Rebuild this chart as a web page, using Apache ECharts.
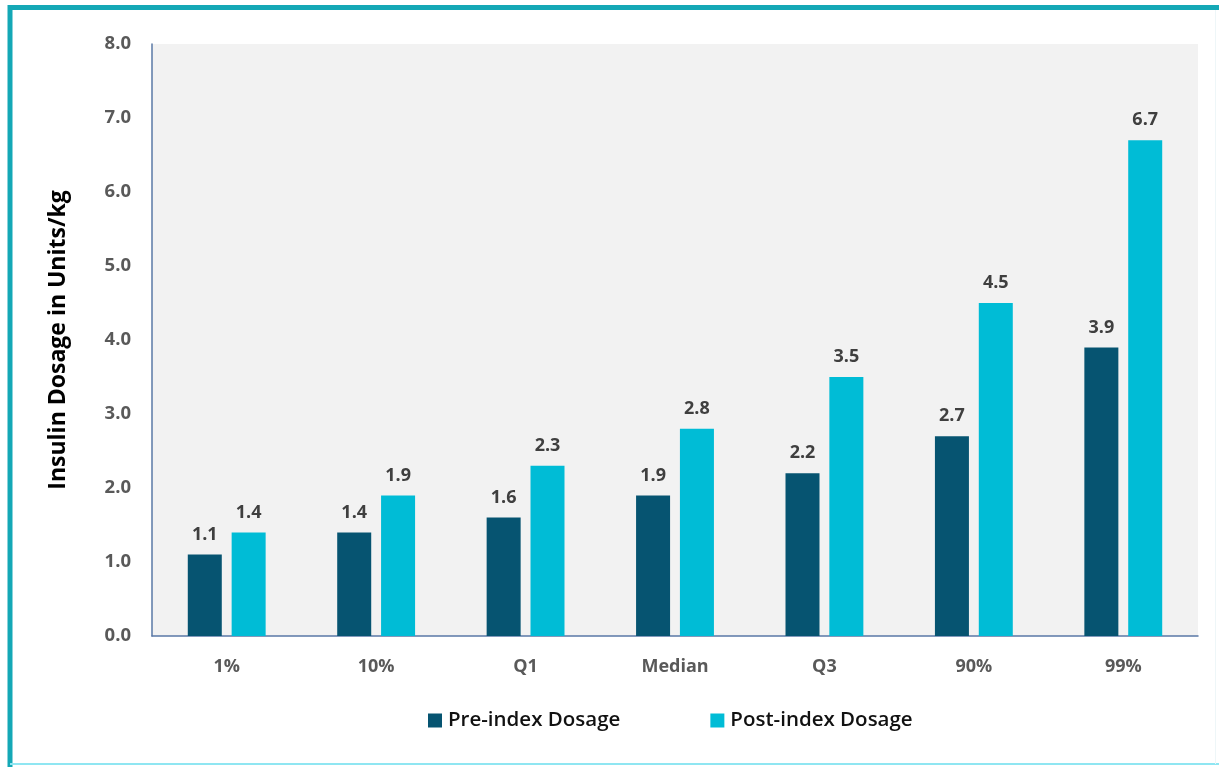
<!DOCTYPE html>
<html>
<head>
<meta charset="utf-8">
<style>
  html, body { margin: 0; padding: 0; background: #ffffff; }
  #chart { width: 1219px; height: 767px; }
</style>
<script src="https://cdn.jsdelivr.net/npm/echarts@6/dist/echarts.min.js"></script>
</head>
<body>
<div id="chart"></div>
<script>
// Percentile categories along the x axis
const categories = ['1%', '10%', 'Q1', 'Median', 'Q3', '90%', '99%'];
// Insulin dosage (Units/kg) before and after the index date
const preIndex = [1.1, 1.4, 1.6, 1.9, 2.2, 2.7, 3.9];
const postIndex = [1.4, 1.9, 2.3, 2.8, 3.5, 4.5, 6.7];
const seriesNames = ['Pre-index Dosage', 'Post-index Dosage'];

const FONT = '"Open Sans", "Liberation Sans", sans-serif';
const DARK = '#065471';
const CYAN = '#00bcd6';

const chart = echarts.init(document.getElementById('chart'), null, { renderer: 'canvas' });

const labelStyle = {
  show: true,
  position: 'top',
  distance: 11,
  fontFamily: FONT,
  fontWeight: 'bold',
  fontSize: 18,
  color: '#3f3f3f',
  formatter: p => p.value.toFixed(1)
};

chart.setOption({
  backgroundColor: '#ffffff',
  animation: false,
  grid: {
    left: 152, right: 21, top: 44, bottom: 131,
    show: true, backgroundColor: '#f2f2f2', borderWidth: 0
  },
  legend: {
    bottom: 31,
    left: 423,
    itemWidth: 14,
    itemHeight: 14,
    itemGap: 90,
    icon: 'rect',
    textStyle: { fontFamily: FONT, fontSize: 20.5, fontWeight: 600, color: '#111111', padding: [0, 0, 0, 1] },
    data: seriesNames
  },
  xAxis: {
    type: 'category',
    data: categories,
    axisLine: { show: true, lineStyle: { color: '#5a78a6', width: 1.5 } },
    axisTick: { show: false },
    axisLabel: { margin: 22, fontFamily: FONT, fontWeight: 'bold', fontSize: 18, color: '#595959' }
  },
  yAxis: {
    type: 'value',
    min: 0, max: 8, interval: 1,
    name: 'Insulin Dosage in Units/kg',
    nameLocation: 'middle',
    nameGap: 82,
    nameTextStyle: { fontFamily: FONT, fontWeight: 'bold', fontSize: 23, color: '#000000' },
    axisLine: { show: true, lineStyle: { color: '#5a78a6', width: 1.5 } },
    axisTick: { show: false },
    splitLine: { show: false },
    axisLabel: { margin: 21, fontFamily: FONT, fontWeight: 'bold', fontSize: 18.5, color: '#595959',
      formatter: v => v.toFixed(1) }
  },
  series: [
    { name: seriesNames[0], type: 'bar', data: preIndex, barWidth: 34, barGap: '29%',
      itemStyle: { color: DARK }, label: labelStyle },
    { name: seriesNames[1], type: 'bar', data: postIndex, barWidth: 34,
      itemStyle: { color: CYAN }, label: labelStyle }
  ],
  graphic: [
    // frame around the figure
    { type: 'line', silent: true, shape: { x1: 8, y1: 7.5, x2: 1219, y2: 7.5 },
      style: { stroke: '#14a8b6', lineWidth: 5 } },
    { type: 'line', silent: true, shape: { x1: 10, y1: 5, x2: 10, y2: 767 },
      style: { stroke: '#14a8b6', lineWidth: 5 } },
    { type: 'line', silent: true, shape: { x1: 10, y1: 764, x2: 1219, y2: 764 },
      style: { stroke: '#8fe6f2', lineWidth: 2 } },
    { type: 'line', silent: true, shape: { x1: 1215.5, y1: 10, x2: 1215.5, y2: 764 },
      style: { stroke: '#eef6f8', lineWidth: 1 } }
  ]
});
</script>
</body>
</html>
